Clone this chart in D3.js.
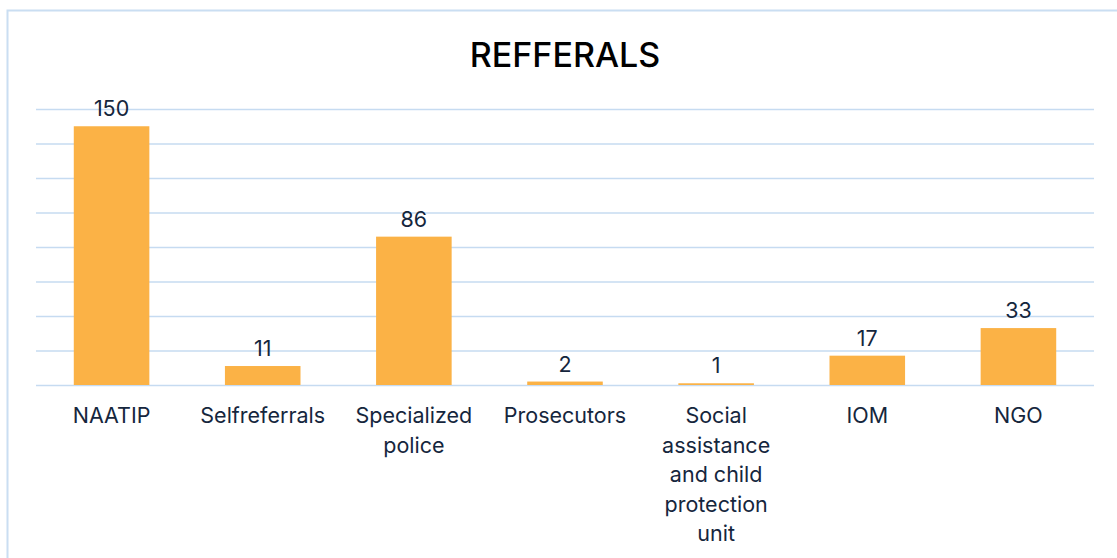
<!DOCTYPE html>
<meta charset="utf-8">
<script src="https://d3js.org/d3.v7.min.js"></script>
<style>
body { margin: 0; background: #fff; }
svg { font-family: Inter, "Noto Sans", sans-serif; }
</style>
<div id="chart"></div>
<script>

const categories = ["NAATIP", "Selfreferrals", "Specialized police", "Prosecutors",
  "Social assistance and child protection unit", "IOM", "NGO"];
const values = [150, 11, 86, 2, 1, 17, 33];
const yTicks = [0, 20, 40, 60, 80, 100, 120, 140, 160];

const W = 1117, H = 558;
const margin = {top: 109, right: 23, bottom: 173, left: 36},
    width = W - margin.left - margin.right,
    height = H - margin.top - margin.bottom;

const svg = d3.select("#chart")
  .append("svg")
    .attr("width", W)
    .attr("height", H);

// outer frame (only top and left edges fall inside the picture)
svg.append("path")
  .attr("d", `M7.5,${H} V10.5 H${W}`)
  .attr("fill", "none")
  .attr("stroke", "#cadef2")
  .attr("stroke-width", 2);

svg.append("text")
  .attr("x", 565)
  .attr("y", 67)
  .attr("text-anchor", "middle")
  .attr("font-size", 34)
  .attr("font-weight", 500)
  .attr("fill", "#000")
  .text("REFFERALS");

const g = svg.append("g")
  .attr("transform", `translate(${margin.left},${margin.top})`);

const x = d3.scaleBand()
  .domain(categories)
  .range([0, width])
  .paddingInner(0.5)
  .paddingOuter(0.25);

const y = d3.scaleLinear()
  .domain([0, 160])
  .range([height, 0]);

// gridlines
g.append("g")
  .call(d3.axisLeft(y).tickValues(yTicks).tickSize(-width).tickFormat(""))
  .call(a => a.select(".domain").remove())
  .call(a => a.selectAll(".tick line")
    .attr("stroke", "#c6dbf1")
    .attr("stroke-width", 1.5));

g.selectAll(".bar")
  .data(values)
  .join("rect")
    .attr("class", "bar")
    .attr("x", (d, i) => x(categories[i]))
    .attr("y", d => y(d))
    .attr("width", x.bandwidth())
    .attr("height", d => height - y(d))
    .attr("fill", "#fbb246");

g.selectAll(".val")
  .data(values)
  .join("text")
    .attr("class", "val")
    .attr("x", (d, i) => x(categories[i]) + x.bandwidth() / 2)
    .attr("y", d => y(d) - 10)
    .attr("text-anchor", "middle")
    .attr("font-size", 21.5)
    .attr("fill", "#15263d")
    .text(d => d);

// category axis with wrapped labels
const xAxis = g.append("g")
  .attr("transform", `translate(0,${height})`)
  .call(d3.axisBottom(x).tickSize(0).tickPadding(0));
xAxis.select(".domain").remove();
xAxis.selectAll(".tick text")
  .attr("font-size", 21.5)
  .attr("font-family", "Inter, 'Noto Sans', sans-serif")
  .attr("fill", "#15263d")
  .call(wrap, 135);

function wrap(sel, maxW) {
  sel.each(function() {
    const t = d3.select(this);
    const words = t.text().split(/\s+/);
    t.text(null).attr("y", null).attr("dy", null);
    let line = [];
    let lineNo = 0;
    let tspan = t.append("tspan").attr("x", 0).attr("y", 38);
    for (const w of words) {
      line.push(w);
      tspan.text(line.join(" "));
      if (tspan.node().getComputedTextLength() > maxW && line.length > 1) {
        line.pop();
        tspan.text(line.join(" "));
        line = [w];
        lineNo++;
        tspan = t.append("tspan").attr("x", 0).attr("y", 38 + lineNo * 29.5).text(w);
      }
    }
  });
}

</script>
